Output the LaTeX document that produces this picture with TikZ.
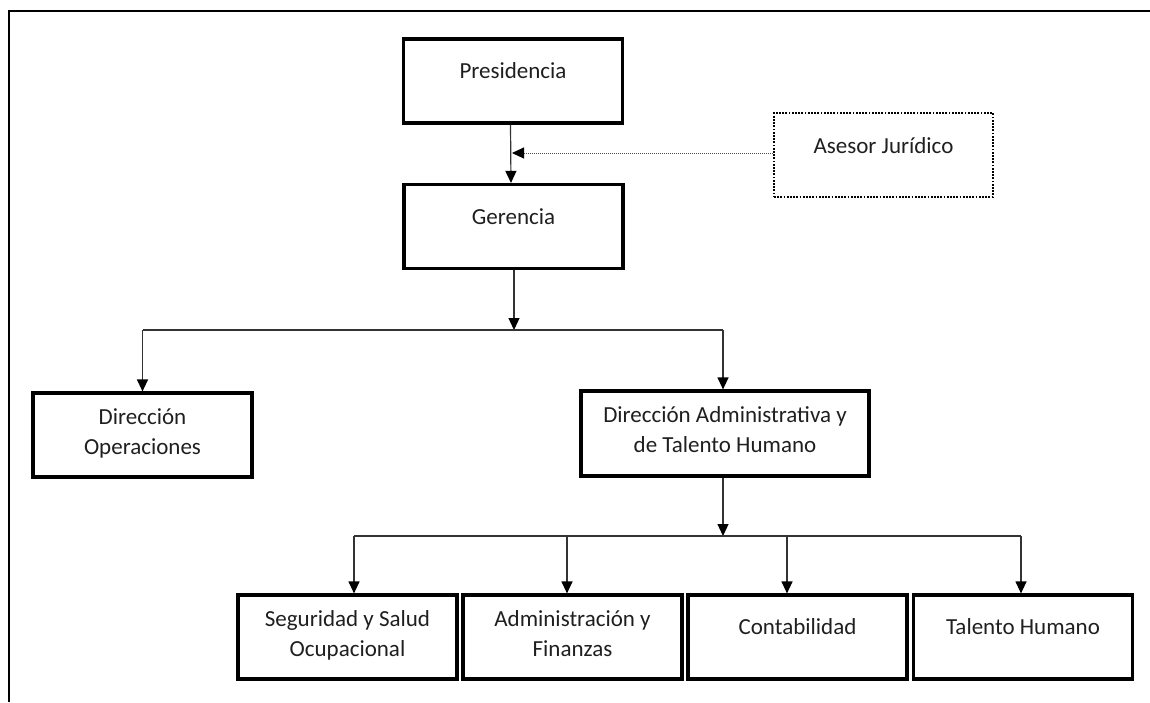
\documentclass[tikz,border=0pt]{standalone}
\usepackage{fontspec}
\setmainfont{Carlito}
\usetikzlibrary{arrows.meta}
\newcommand\lnstrut{\rule{0pt}{17pt}}
\begin{document}
\begin{tikzpicture}[x=1pt,y=-1pt,
  box/.style={draw=black, line width=3.2pt, minimum width=219pt, minimum height=84pt, inner sep=0pt},
  advbox/.style={draw=black, line width=2.4pt, dash pattern=on 1.8pt off 1.4pt, minimum width=219pt, minimum height=84pt, inner sep=0pt},
  lbl/.style={anchor=north, inner sep=0pt, align=center, text=black!88, font=\fontsize{23}{30}\selectfont},
  conn/.style={line width=1.2pt, draw=black!80},
  arr/.style={conn, -{Triangle[length=12pt,width=11pt,fill=black,color=black]}},
  dotarr/.style={line width=1pt, draw=black!70, dash pattern=on 1pt off 1pt, -{Triangle[length=12pt,width=11pt,fill=black,color=black]}},
]
\useasboundingbox (0,0) rectangle (1150,702);

% page frame
\draw[line width=2.8pt] (1150,11) -- (9,11) -- (9,702);

% boxes
\node[box] (pres) at (513,81) {};
\node[box] (ger) at (513.5,226.5) {};
\node[advbox] (ases) at (883.5,155) {};
\node[box] (dops) at (142.5,435) {};
\node[box, minimum width=288pt, minimum height=85pt] (dadm) at (725,433.5) {};
\node[box] (seg) at (347.5,637) {};
\node[box] (adm) at (572.5,637) {};
\node[box] (cont) at (797.5,637) {};
\node[box] (tal) at (1023,637) {};

% labels
\node[lbl] (tpres) at ([yshift=-24pt]pres.north) {\lnstrut Presidencia};
\node[lbl] (tger) at ([yshift=-24pt]ger.north) {\lnstrut Gerencia};
\node[lbl] (tases) at ([yshift=-24pt]ases.north) {\lnstrut Asesor Jurídico};
\node[lbl] (tdops) at ([yshift=-15.5pt]dops.north) {\lnstrut Dirección\\Operaciones};
\node[lbl] (tdadm) at ([yshift=-15.5pt]dadm.north) {\lnstrut Dirección Administrativa y\\de Talento Humano};
\node[lbl] (tseg) at ([yshift=-15.5pt]seg.north) {\lnstrut Seguridad y Salud\\Ocupacional};
\node[lbl] (tadm) at ([yshift=-15.5pt]adm.north) {\lnstrut Administración y\\Finanzas};
\node[lbl] (tcont) at ([yshift=-24pt]cont.north) {\lnstrut Contabilidad};
\node[lbl] (ttal) at ([yshift=-24pt]tal.north) {\lnstrut Talento Humano};

% Presidencia -> Gerencia, with advisory link
\draw[arr] ([xshift=-2.5pt]pres.south) -- ([xshift=-2.5pt]ger.north);
\coordinate (jadv) at ([xshift=-1pt]pres.south |- 0,153);
\draw[dotarr] (ases.west |- jadv) -- (jadv);

% Gerencia -> first level
\coordinate (bus1) at (514,330);
\draw[arr] (ger.south -| bus1) -- (bus1);
\draw[conn] (dops.north |- bus1) -- ([xshift=-2pt]dadm.north |- bus1);
\draw[arr] (dops.north |- bus1) -- (dops.north);
\draw[arr] ([xshift=-2pt]dadm.north |- bus1) -- ([xshift=-2pt]dadm.north);

% Direccion Administrativa -> departments
\coordinate (bus2) at (723,536);
\coordinate (s1) at (354,536);
\coordinate (s2) at (567,536);
\coordinate (s3) at (787,536);
\coordinate (s4) at (1021,536);
\draw[arr] (dadm.south -| bus2) -- (bus2);
\draw[conn] (s1) -- (s4);
\draw[arr] (s1) -- (s1 |- seg.north);
\draw[arr] (s2) -- (s2 |- adm.north);
\draw[arr] (s3) -- (s3 |- cont.north);
\draw[arr] (s4) -- (s4 |- tal.north);
\end{tikzpicture}
\end{document}
